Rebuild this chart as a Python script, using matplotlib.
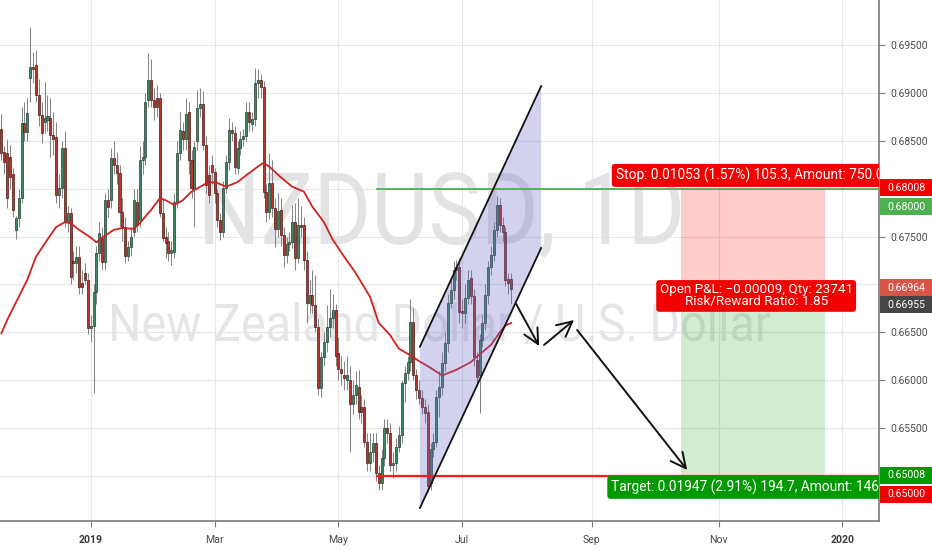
import numpy as np
import pandas as pd
import matplotlib
matplotlib.use('Agg')
import matplotlib.pyplot as plt
from matplotlib.patches import Rectangle, PathPatch, Polygon
from matplotlib.textpath import TextPath
from matplotlib.font_manager import FontProperties
from matplotlib.transforms import Affine2D, IdentityTransform

plt.rcParams['font.family'] = ['Roboto', 'DejaVu Sans']

# daily NZDUSD bars, first bar = 2018-11-19 (weekdays only)
first_day = '2018-11-19'
n_before_2019 = 31

opens = [
    .6862, .6838, .6837, .6833, .6815, .6757, .6769, .6790, .6869, .6859,
    .6916, .6927, .6929, .6898, .6877, .6870, .6872, .6874, .6856, .6854,
    .6793, .6801, .6843, .6765, .6775, .6725, .6722, .6729, .6702, .6712,
    .6705,
    .6655, .6657, .6692, .6733, .6749, .6723, .6788, .6788, .6832, .6825,
    .6816, .6776, .6760, .6730, .6739, .6755, .6786, .6767, .6830, .6833,
    .6893, .6913, .6893, .6895, .6895, .6775, .6750, .6745, .6733, .6734,
    .6786, .6837, .6860, .6852, .6880, .6830, .6800, .6850, .6884, .6888,
    .6846, .6814, .6825, .6817, .6795, .6767, .6755, .6801, .6828, .6861,
    .6858, .6822, .6843, .6852, .6855, .6880, .6868, .6873, .6910, .6913,
    .6906, .6797, .6776, .6806, .6780, .6758, .6778, .6752, .6731, .6742,
    .6744, .6765, .6728, .6762, .6762, .6726, .6681, .6689, .6679, .6656,
    .6592, .6624, .6640, .6656, .6665, .6673, .6628, .6612, .6605, .6600,
    .6600, .6575, .6585, .6593, .6572, .6572, .6536, .6514, .6525, .6535,
    .6503, .6493, .6519, .6550, .6545, .6512, .6514, .6530, .6543, .6597,
    .6608, .6619, .6661, .6606, .6590, .6582, .6572, .6567, .6493, .6528,
    .6536, .6583, .6593, .6618, .6639, .6681, .6694, .6715, .6718, .6672,
    .6670, .6686, .6707, .6688, .6621, .6606, .6642, .6660, .6689, .6718,
    .6731, .6757, .6783, .6762, .6755, .6706, .6706]

highs = [
    .6878, .6845, .6852, .6846, .6822, .6772, .6800, .6885, .6890, .6895,
    .6969, .6943, .6945, .6915, .6890, .6911, .6898, .6895, .6880, .6870,
    .6815, .6850, .6860, .6782, .6780, .6735, .6740, .6740, .6715, .6722,
    .6712,
    .6668, .6700, .6740, .6765, .6760, .6795, .6800, .6843, .6850, .6838,
    .6825, .6790, .6770, .6745, .6760, .6800, .6800, .6845, .6850, .6900,
    .6942, .6935, .6905, .6908, .6900, .6790, .6760, .6755, .6745, .6795,
    .6850, .6880, .6870, .6895, .6890, .6840, .6850, .6903, .6905, .6902,
    .6855, .6825, .6835, .6822, .6800, .6775, .6808, .6835, .6874, .6870,
    .6865, .6850, .6860, .6862, .6890, .6890, .6880, .6926, .6925, .6920,
    .6912, .6805, .6837, .6830, .6790, .6795, .6790, .6760, .6750, .6755,
    .6783, .6785, .6790, .6782, .6770, .6735, .6705, .6715, .6710, .6665,
    .6630, .6650, .6679, .6695, .6690, .6680, .6645, .6625, .6620, .6625,
    .6615, .6600, .6610, .6611, .6585, .6580, .6545, .6545, .6545, .6545,
    .6512, .6528, .6560, .6560, .6555, .6525, .6540, .6552, .6600, .6615,
    .6625, .6685, .6675, .6612, .6600, .6590, .6580, .6575, .6535, .6545,
    .6590, .6610, .6630, .6650, .6690, .6705, .6725, .6726, .6728, .6685,
    .6700, .6715, .6715, .6695, .6630, .6648, .6668, .6700, .6725, .6740,
    .6765, .6792, .6790, .6770, .6760, .6712, .6712]

lows = [
    .6830, .6815, .6780, .6800, .6770, .6748, .6760, .6785, .6850, .6850,
    .6890, .6910, .6890, .6865, .6848, .6858, .6860, .6833, .6835, .6785,
    .6780, .6790, .6760, .6755, .6700, .6705, .6712, .6690, .6690, .6700,
    .6648,
    .6640, .6587, .6680, .6725, .6715, .6715, .6770, .6780, .6815, .6805,
    .6760, .6745, .6722, .6725, .6730, .6750, .6755, .6760, .6815, .6825,
    .6885, .6885, .6872, .6875, .6770, .6745, .6728, .6725, .6720, .6728,
    .6780, .6830, .6840, .6840, .6815, .6790, .6760, .6840, .6875, .6840,
    .6795, .6785, .6805, .6785, .6760, .6746, .6750, .6795, .6820, .6850,
    .6815, .6815, .6835, .6845, .6850, .6860, .6860, .6865, .6895, .6895,
    .6790, .6765, .6768, .6770, .6739, .6750, .6740, .6718, .6722, .6735,
    .6738, .6715, .6722, .6750, .6715, .6660, .6670, .6670, .6650, .6585,
    .6583, .6615, .6630, .6645, .6655, .6615, .6600, .6595, .6590, .6590,
    .6525, .6565, .6575, .6560, .6555, .6530, .6505, .6505, .6515, .6495,
    .6485, .6485, .6510, .6535, .6505, .6498, .6505, .6525, .6535, .6577,
    .6600, .6610, .6600, .6580, .6575, .6565, .6555, .6483, .6485, .6520,
    .6530, .6562, .6585, .6610, .6630, .6675, .6685, .6705, .6660, .6655,
    .6660, .6680, .6680, .6615, .6595, .6566, .6635, .6652, .6680, .6710,
    .6725, .6750, .6755, .6745, .6698, .6690, .6680]

closes = [
    .6837, .6828, .6790, .6812, .6778, .6769, .6790, .6869, .6859, .6879,
    .6927, .6925, .6898, .6877, .6858, .6874, .6876, .6856, .6852, .6793,
    .6801, .6843, .6765, .6775, .6708, .6722, .6729, .6697, .6697, .6705,
    .6655,
    .6657, .6692, .6733, .6754, .6723, .6788, .6781, .6832, .6825, .6816,
    .6776, .6760, .6730, .6739, .6750, .6788, .6762, .6830, .6833, .6890,
    .6913, .6893, .6885, .6885, .6775, .6749, .6743, .6733, .6736, .6786,
    .6837, .6861, .6852, .6878, .6830, .6801, .6844, .6884, .6888, .6846,
    .6804, .6793, .6817, .6795, .6767, .6755, .6801, .6828, .6861, .6858,
    .6823, .6843, .6852, .6855, .6880, .6870, .6873, .6910, .6913, .6906,
    .6797, .6776, .6806, .6780, .6758, .6777, .6752, .6731, .6742, .6744,
    .6765, .6728, .6762, .6760, .6726, .6681, .6689, .6679, .6656, .6592,
    .6624, .6640, .6656, .6665, .6673, .6625, .6612, .6608, .6602, .6606,
    .6575, .6585, .6595, .6567, .6567, .6536, .6514, .6525, .6535, .6503,
    .6493, .6519, .6550, .6545, .6512, .6514, .6530, .6543, .6597, .6608,
    .6619, .6661, .6606, .6590, .6582, .6572, .6566, .6490, .6528, .6536,
    .6583, .6593, .6618, .6639, .6681, .6694, .6715, .6718, .6671, .6670,
    .6686, .6705, .6688, .6624, .6603, .6642, .6660, .6689, .6718, .6731,
    .6757, .6783, .6762, .6755, .6705, .6702, .66955]

# moving average (bar index from 2019-01-01, value)
ma_idx = [-31, -29, -26, -22, -19, -15, -12, -9, -7, -4, 0, 2, 4, 8, 11, 15, 17,
          21, 24, 26, 29, 32, 35, 38, 41, 44, 47, 51, 54, 58, 60, 62, 66, 70,
          74, 77, 81, 84, 88, 92, 97, 100, 104, 107, 111, 114, 118, 122, 127,
          132, 135, 139, 142, 144, 146]
ma_val = [.6649, .6663, .6681, .6705, .6729, .6747, .6760, .6765, .6764, .6757,
          .6749, .6744, .6749, .6757, .6759, .6758, .6764, .6778, .6790, .6788,
          .6783, .6788, .6797, .6802, .6807, .6806, .6802, .6807, .6814, .6823,
          .6827, .6823, .6812, .6802, .6797, .6781, .6765, .6747, .6729, .6712,
          .6687, .6660, .6647, .6633, .6626, .6620, .6613, .6605, .6611, .6619,
          .6627, .6637, .6650, .6657, .6660]

# drawings on the chart
channel_x = [114.3, 156.4]
channel_top = [0.66351, 0.69072]
channel_bot = [0.64667, 0.67381]
arrow_tails = [(147.7, 0.66797), (157.4, 0.66369), (168.9, 0.66525)]
arrow_heads = [(155.7, 0.66358), (167.8, 0.66629), (207.1, 0.65064)]
hline_start = 99.5
green_level = 0.68000
red_level = 0.65000
entry, stop, target = 0.66964, 0.68008, 0.65008
last_price = 0.66955
pos_start, pos_end = 205, 255
stop_text = 'Stop: 0.01053 (1.57%) 105.3, Amount: 750.00'
target_text = 'Target: 0.01947 (2.91%) 194.7, Amount: 1462'
pnl_text = 'Open P&L: \u22120.00009, Qty: 23741\nRisk/Reward Ratio: 1.85'
y_ticks = [0.650, 0.655, 0.660, 0.665, 0.670, 0.675, 0.680, 0.685, 0.690, 0.695]
hidden_ticks = [0.650, 0.670, 0.680]   # covered by the price tags

W, H = 932, 550
fig = plt.figure(figsize=(W / 100, H / 100), dpi=100)
ax = fig.add_axes([0, 29 / H, 879.3 / W, 521 / H])
ax.set_xlim(-31.49, 273.8)
ax.set_ylim(0.64531, 0.69970)

o = np.array(opens)
h = np.array(highs)
l = np.array(lows)
c = np.array(closes)
x = np.arange(len(o)) - n_before_2019

# month ticks
days = pd.bdate_range(first_day, periods=330)
tick_pos, tick_lab = [], []
for i in range(1, len(days)):
    if days[i].month != days[i - 1].month and days[i].month % 2 == 1:
        tick_pos.append(i - n_before_2019)
        tick_lab.append(str(days[i].year) if days[i].month == 1 else days[i].strftime('%b'))

ax.set_axisbelow(True)
for t in tick_pos:
    ax.axvline(t, color='#e6e6ec', lw=0.8, zorder=0.4)
for yv in y_ticks:
    ax.axhline(yv, color='#e6e6ec', lw=0.8, zorder=0.4)


def watermark(txt, x0, x1, cap_top, base, color):
    fp = FontProperties(family='Roboto')
    tp = TextPath((0, 0), txt, size=100, prop=fp)
    cap = TextPath((0, 0), 'N', size=100, prop=fp).get_extents().y1
    ext = tp.get_extents()
    sx = (x1 - x0) / ext.width
    sy = (base - cap_top) / cap
    tr = Affine2D().translate(-ext.x0, 0).scale(sx, sy).translate(x0, H - base)
    ax.add_artist(PathPatch(tp, transform=tr, facecolor=color, edgecolor='none', zorder=0.6))


watermark('NZDUSD, 1D', 205, 680, 173, 244, '#e3e3e6')
watermark('New Zealand Dollar / U.S. Dollar', 112, 770, 304, 341, '#e5e5e8')

# candles
body_lo = np.minimum(o, c)
body_h = np.maximum(np.abs(c - o), 0.00004)
up = c >= o
ax.vlines(x, l, h, color='#858585', lw=0.75, zorder=2)
ax.bar(x[up], body_h[up], bottom=body_lo[up], width=0.7, color='#3e8a63',
       edgecolor='#1f3d30', lw=0.5, zorder=3)
ax.bar(x[~up], body_h[~up], bottom=body_lo[~up], width=0.7, color='#b8372c',
       edgecolor='#4a1a14', lw=0.5, zorder=3)

ax.plot(ma_idx, ma_val, color='#cc2222', lw=1.3, zorder=3.5)

# channel
ax.add_patch(Polygon([(channel_x[0], channel_bot[0]), (channel_x[0], channel_top[0]),
                      (channel_x[1], channel_top[1]), (channel_x[1], channel_bot[1])],
                     closed=True, facecolor=(0.42, 0.42, 0.78, 0.3), edgecolor='none', zorder=4))
ax.plot(channel_x, channel_top, color='#111111', lw=1.3, zorder=4.5)
ax.plot(channel_x, channel_bot, color='#111111', lw=1.3, zorder=4.5)

# horizontal levels
ax.plot([hline_start, 300], [green_level, green_level], color='#4caf50', lw=1.3, zorder=4)
ax.plot([hline_start, 300], [red_level, red_level], color='#ff1a1a', lw=1.6, zorder=4)

# arrows
for tail, head in zip(arrow_tails, arrow_heads):
    ax.annotate('', xy=head, xytext=tail,
                arrowprops=dict(arrowstyle='->,head_length=0.9,head_width=0.45', color='#111111',
                                lw=1.4, shrinkA=0, shrinkB=0, mutation_scale=12), zorder=6)

# short position tool
ax.add_patch(Rectangle((pos_start, entry), pos_end - pos_start, stop - entry,
                       facecolor=(1, 0, 0, 0.2), edgecolor='none', zorder=1.5))
ax.add_patch(Rectangle((pos_start, target), pos_end - pos_start, entry - target,
                       facecolor=(0, 0.6, 0, 0.18), edgecolor='none', zorder=1.5))
mid = (pos_start + pos_end) / 2
ax.annotate(stop_text, xy=(mid, stop), xytext=(0, 12.5), textcoords='offset pixels',
            ha='center', va='center', color='white', fontsize=9.9, clip_on=True, zorder=7,
            bbox=dict(boxstyle='round,pad=0.28,rounding_size=0.25', fc='#f20000', ec='none'))
ax.annotate(target_text, xy=(pos_start, target), xytext=(-70, -12), textcoords='offset pixels',
            ha='left', va='center', color='white', fontsize=9.9, clip_on=True, zorder=7,
            bbox=dict(boxstyle='round,pad=0.28,rounding_size=0.25', fc='#009a00', ec='none'))
ax.annotate(pnl_text, xy=(mid, entry), xytext=(3, -8), textcoords='offset pixels',
            ha='center', va='center', color='white', fontsize=9.7, clip_on=True, zorder=7,
            linespacing=0.9,
            bbox=dict(boxstyle='round,pad=0.25,rounding_size=0.25', fc='#f20000', ec='none'))

# axes styling
for s in ['top', 'left']:
    ax.spines[s].set_visible(False)
for s in ['right', 'bottom']:
    ax.spines[s].set_color('#7a7a7a')
    ax.spines[s].set_linewidth(1.2)
ax.yaxis.tick_right()
ax.set_yticks(y_ticks)
ax.set_yticklabels(['' if v in hidden_ticks else '%.5f' % v for v in y_ticks])
ax.tick_params(axis='y', length=4, width=0.8, color='#7a7a7a', labelsize=7.4,
               labelcolor='#4a4a4a', pad=4)
ax.set_xticks(tick_pos)
ax.set_xticklabels(tick_lab)
ax.tick_params(axis='x', length=4, width=0.8, color='#7a7a7a', labelsize=7.6,
               labelcolor='#4a4a4a', pad=6)
for lab in ax.get_xticklabels():
    if lab.get_text().isdigit():
        lab.set_fontweight('bold')
        lab.set_color('#3a3a3a')


# price tags on the right scale
def price_tag(price, label, fc, shift=0):
    yd = ax.transData.transform((0, price))[1] - shift
    fig.add_artist(Rectangle((880, yd - 8.5), 52, 17, transform=IdentityTransform(),
                             facecolor=fc, edgecolor='none', zorder=5))
    fig.text(887 / W, yd / H, label, color='white', fontsize=7.6, va='center',
             ha='left', zorder=6)


price_tag(stop, '%.5f' % stop, '#f20000')
price_tag(green_level, '%.5f' % green_level, '#4caf50', shift=18)
price_tag(entry, '%.5f' % entry, '#d95548')
price_tag(last_price, '%.5f' % last_price, '#454545', shift=16)
price_tag(target, '%.5f' % target, '#009a00')
price_tag(red_level, '%.5f' % red_level, '#f20000', shift=18)

fig.savefig('out.png', dpi=100)
